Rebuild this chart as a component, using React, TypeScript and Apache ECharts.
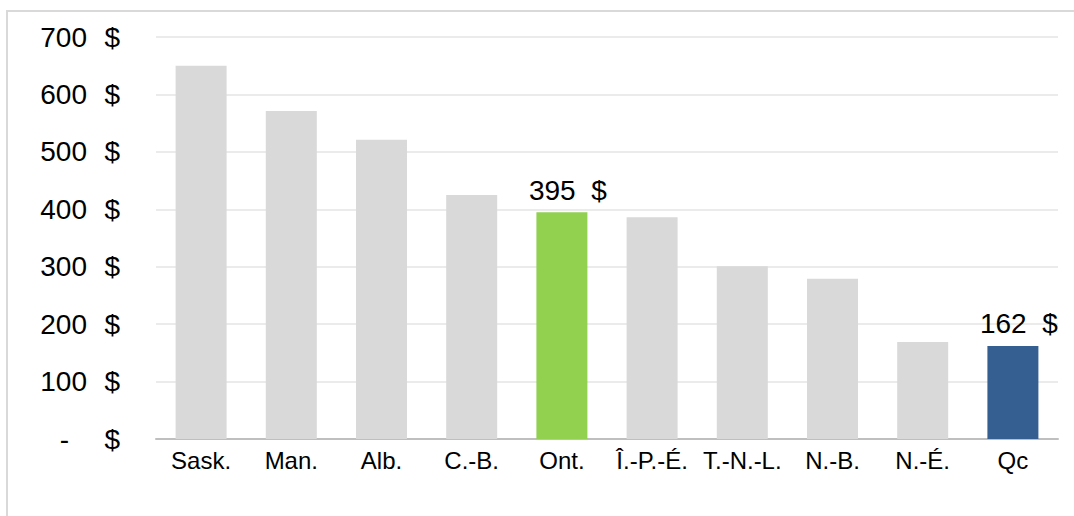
import React, { useEffect, useRef } from "react";
import * as echarts from "echarts";

const categories = ["Sask.", "Man.", "Alb.", "C.-B.", "Ont.", "Î.-P.-É.", "T.-N.-L.", "N.-B.", "N.-É.", "Qc"];
const values = [650, 571, 521, 425, 395, 386, 301, 279, 169, 162];
const highlight: Record<string, string> = { "Ont.": "#92d050", "Qc": "#355f91" };
const labelled = ["Ont.", "Qc"];
const yTicks = [0, 100, 200, 300, 400, 500, 600, 700];

export default function App() {
  const ref = useRef<HTMLDivElement>(null);
  useEffect(() => {
    if (!ref.current) return;
    const chart = echarts.init(ref.current, null, { renderer: "svg" });
    const font = "'Liberation Sans', Arial, sans-serif";
    chart.setOption({
      animation: false,
      backgroundColor: "#ffffff",
      textStyle: { fontFamily: font },
      grid: { left: 156, right: 16, top: 37, bottom: 77, containLabel: false },
      graphic: [
        {
          type: "rect",
          shape: { x: 7, y: 11, width: 1080, height: 520 },
          style: { fill: "none", stroke: "#d9d9d9", lineWidth: 2 },
          silent: true,
        },
      ],
      xAxis: {
        type: "category",
        data: categories,
        axisLine: { lineStyle: { color: "#bfbfbf", width: 2 } },
        axisTick: { show: false },
        axisLabel: {
          color: "#000",
          fontSize: 24,
          fontFamily: font,
          margin: 9,
          interval: 0,
          hideOverlap: false,
        },
      },
      yAxis: {
        type: "value",
        min: yTicks[0],
        max: yTicks[yTicks.length - 1],
        interval: 100,
        axisLine: { show: false },
        axisTick: { show: false },
        splitLine: { lineStyle: { color: "#ebebeb", width: 2 } },
        axisLabel: {
          margin: 36,
          color: "#000",
          fontSize: 28,
          fontFamily: font,
          formatter: (v: number) => (v === 0 ? "{m|-}{d|$}" : `{n|${v}}{d|$}`),
          rich: {
            n: { fontSize: 28, color: "#000", fontFamily: font },
            m: { fontSize: 28, color: "#000", fontFamily: font, padding: [0, 18, 0, 0] },
            d: { fontSize: 28, color: "#000", fontFamily: font, width: 33, align: "right" },
          },
        },
      },
      series: [
        {
          type: "bar",
          barWidth: 51,
          data: categories.map((c, i) => ({
            value: values[i],
            itemStyle: { color: highlight[c] || "#d9d9d9" },
            label: {
              show: labelled.includes(c),
              position: "top",
              distance: 8,
              offset: [6, 0],
              formatter: "{c}  $",
              color: "#000",
              fontSize: 28,
              fontFamily: font,
            },
          })),
        },
      ],
    });
    return () => chart.dispose();
  }, []);
  return (
    <div
      ref={ref}
      style={{ position: "absolute", left: 0, top: 0, width: 1074, height: 516 }}
    />
  );
}
